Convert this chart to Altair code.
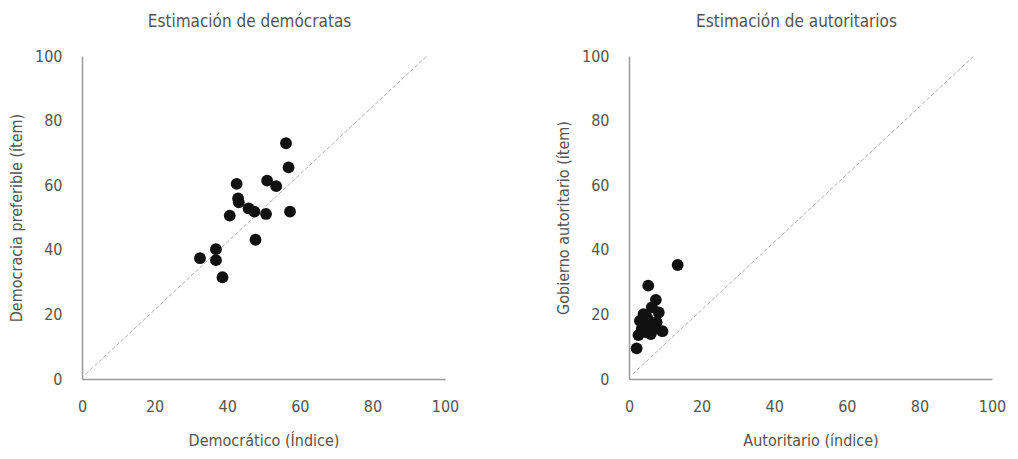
import altair as alt
import pandas as pd

# Left panel: demócratas
dem_x = [56.2, 56.9, 42.6, 51.0, 53.5, 43.0, 43.2, 45.9, 47.5, 40.7, 50.7, 57.3, 47.8, 36.9, 32.5, 36.9, 38.7]
dem_y = [73.0, 65.5, 60.4, 61.4, 59.7, 55.9, 54.7, 52.8, 51.8, 50.6, 51.1, 51.8, 43.1, 40.2, 37.4, 36.8, 31.5]

# Right panel: autoritarios
aut_x = [13.4, 5.3, 7.4, 6.3, 4.0, 8.2, 3.0, 5.8, 7.6, 3.5, 9.2, 2.6, 6.0, 4.5, 2.1, 5.0, 7.0]
aut_y = [35.3, 28.9, 24.5, 22.2, 20.1, 20.6, 18.0, 17.2, 17.6, 15.5, 14.8, 13.6, 13.9, 14.5, 9.5, 19.0, 15.5]

# Reference diagonal endpoints
diag_x = [1, 95]
diag_y = [1.5, 100]

ticks = [0, 20, 40, 60, 80, 100]
FONT = "'Liberation Sans Narrow', 'DejaVu Sans Condensed', sans-serif"
TXT = "#555555"


def axis(title, pad, tpad):
    return alt.Axis(values=ticks, title=title, grid=False, ticks=False, tickSize=0,
                    labelPadding=pad, titlePadding=tpad, labelFlush=False,
                    domainColor="#9a9a9a", domainWidth=1.5,
                    labelFont=FONT, titleFont=FONT, labelFontSize=16, titleFontSize=16,
                    labelColor=TXT, titleColor=TXT, titleFontWeight="normal")


def panel(xs, ys, title, xtitle, ytitle):
    pts = pd.DataFrame({"x": xs, "y": ys})
    diag = pd.DataFrame({"x": diag_x, "y": diag_y})
    xs_ = alt.Scale(domain=[0, 100], nice=False)
    ys_ = alt.Scale(domain=[0, 100], nice=False)
    xax = axis(xtitle, 19, 18)
    yax = axis(ytitle, 20, 10)
    line = alt.Chart(diag).mark_line(color="#b0b0b0", strokeDash=[4, 2], strokeWidth=1).encode(
        x=alt.X("x:Q", scale=xs_, axis=xax),
        y=alt.Y("y:Q", scale=ys_, axis=yax),
    )
    dots = alt.Chart(pts).mark_circle(size=140, color="#111111", opacity=1).encode(
        x=alt.X("x:Q", scale=xs_, axis=xax),
        y=alt.Y("y:Q", scale=ys_, axis=yax),
    )
    return alt.layer(line, dots).properties(
        width=363, height=323,
        title=alt.TitleParams(title, fontSize=17, font=FONT, color=TXT, fontWeight="normal",
                              offset=17, dx=-14),
    )


left = panel(dem_x, dem_y, "Estimación de demócratas", "Democrático (Índice)", "Democracia preferible (ítem)")
right = panel(aut_x, aut_y, "Estimación de autoritarios", "Autoritario (índice)", "Gobierno autoritario (ítem)")

chart = alt.hconcat(left, right, spacing=96).properties(
    padding={"top": 5, "left": 0, "right": 0, "bottom": 0}, background="white"
).configure_view(stroke=None)

chart.save("out.html", embed_options={"renderer": "svg", "actions": False})
